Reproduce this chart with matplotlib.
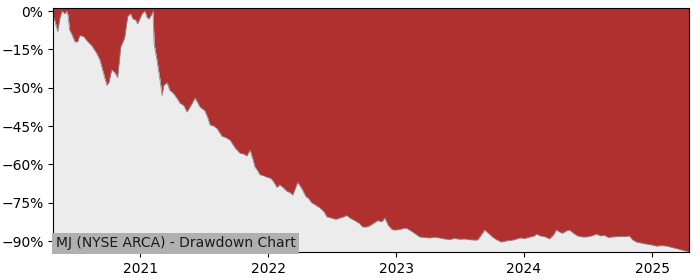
import matplotlib
matplotlib.use("Agg")
import matplotlib.pyplot as plt
import matplotlib.dates as mdates
from matplotlib.ticker import PercentFormatter
import pandas as pd

# ----- DATA (drawdown from running peak, percent)
dates = [
    "2020-04-27", "2020-05-02", "2020-05-10", "2020-05-16", "2020-05-22", "2020-05-30",
    "2020-06-05", "2020-06-08", "2020-06-13", "2020-06-19", "2020-06-28", "2020-07-06",
    "2020-07-12", "2020-07-23", "2020-08-04", "2020-08-15", "2020-08-29", "2020-09-07",
    "2020-09-13", "2020-09-21", "2020-09-27", "2020-10-03", "2020-10-11", "2020-10-20",
    "2020-10-28", "2020-11-06", "2020-11-17", "2020-11-26", "2020-12-04", "2020-12-10",
    "2020-12-19", "2020-12-24", "2021-01-06", "2021-01-14", "2021-01-20", "2021-01-26",
    "2021-02-03", "2021-02-06", "2021-02-09", "2021-02-17", "2021-02-26", "2021-03-04",
    "2021-03-09", "2021-03-18", "2021-03-26", "2021-04-04", "2021-04-15", "2021-04-24",
    "2021-05-05", "2021-05-14", "2021-05-25", "2021-06-06", "2021-06-20", "2021-07-04",
    "2021-07-13", "2021-07-19", "2021-07-30", "2021-08-08", "2021-08-22", "2021-09-02",
    "2021-09-14", "2021-09-28", "2021-10-12", "2021-10-24", "2021-11-01", "2021-11-10",
    "2021-11-18", "2021-11-24", "2021-12-02", "2021-12-08", "2021-12-20", "2021-12-28",
    "2022-01-09", "2022-01-17", "2022-01-26", "2022-02-03", "2022-02-12", "2022-02-23",
    "2022-03-04", "2022-03-12", "2022-03-18", "2022-03-26", "2022-04-07", "2022-04-18",
    "2022-04-27", "2022-05-05", "2022-05-17", "2022-05-28", "2022-06-09", "2022-06-17",
    "2022-07-01", "2022-07-13", "2022-07-24", "2022-08-05", "2022-08-13", "2022-08-22",
    "2022-09-05", "2022-09-17", "2022-09-28", "2022-10-09", "2022-10-18", "2022-10-29",
    "2022-11-10", "2022-11-21", "2022-11-30", "2022-12-08", "2022-12-20", "2022-12-28",
    "2023-01-11", "2023-01-23", "2023-01-31", "2023-02-12", "2023-02-23", "2023-03-09",
    "2023-03-24", "2023-04-07", "2023-04-21", "2023-05-05", "2023-05-20", "2023-06-03",
    "2023-06-17", "2023-07-01", "2023-07-16", "2023-07-30", "2023-08-13", "2023-08-22",
    "2023-09-02", "2023-09-11", "2023-09-22", "2023-10-04", "2023-10-15", "2023-10-29",
    "2023-11-10", "2023-11-21", "2023-12-05", "2023-12-20", "2024-01-03", "2024-01-17",
    "2024-01-31", "2024-02-06", "2024-02-17", "2024-03-01", "2024-03-14", "2024-03-26",
    "2024-04-03", "2024-04-12", "2024-04-20", "2024-05-02", "2024-05-10", "2024-05-22",
    "2024-06-02", "2024-06-16", "2024-06-28", "2024-07-12", "2024-07-26", "2024-08-07",
    "2024-08-18", "2024-08-29", "2024-09-10", "2024-09-24", "2024-10-06", "2024-10-17",
    "2024-10-28", "2024-11-06", "2024-11-17", "2024-12-01", "2024-12-16", "2025-01-03",
    "2025-01-14", "2025-01-28", "2025-02-12", "2025-02-26", "2025-03-13", "2025-03-27",
    "2025-04-10", "2025-04-16",
]
drawdown = [
    -2, -4, -8, -3, 0, -1,
    0, -1.5, -7.5, -9, -12, -12,
    -9.5, -10, -12, -13.5, -16.5, -19,
    -22, -26, -29, -28, -23, -24,
    -26, -14, -10.5, -2, -1, -3,
    -3.5, -5, -1, 0, -2.5, -3,
    -1, 0, -12.7, -19, -27, -33,
    -29, -28, -31, -32, -34, -36,
    -37, -39.5, -37, -34, -37.5, -39,
    -42, -44.6, -45, -46, -49, -49.5,
    -50.5, -53.5, -55.6, -56, -56.7, -54.4,
    -58, -61, -62.5, -64, -64.5, -65,
    -65.5, -67, -69, -68, -69, -70.5,
    -71, -72, -70, -67, -69.5, -72.5,
    -73.5, -75, -76, -77, -78.5, -80.5,
    -81, -81.5, -81, -80.5, -80, -81,
    -82, -83, -84.5, -84.5, -84, -83,
    -82, -82.5, -81, -83.5, -85.5, -85.7,
    -85.5, -85, -85, -86, -87, -88.4,
    -88.6, -88.8, -88.5, -88.8, -89.2, -89.4,
    -89, -89.3, -89.2, -89.5, -89.6, -89.6,
    -87.5, -85.7, -87, -88.5, -89.5, -90.4,
    -90, -89.8, -89.5, -88.8, -89, -88.5,
    -88, -87.3, -88, -88.3, -89.2, -87.5,
    -85.7, -86.5, -87, -86, -85.7, -87,
    -88, -88.4, -88.4, -88, -87.3, -88,
    -87.8, -88.6, -88.4, -88.3, -88.2, -88.3,
    -88, -89.5, -90.4, -90.8, -91.2, -91.6,
    -92, -91.8, -92, -92.5, -93, -93.5,
    -94, -94.3,
]
ytick_values = [0, -15, -30, -45, -60, -75, -90]
chart_label = "MJ (NYSE ARCA) - Drawdown Chart"

x = pd.to_datetime(dates)

fig, ax = plt.subplots(figsize=(7, 2.8), dpi=100)
fig.subplots_adjust(left=0.076, right=0.984, top=0.971, bottom=0.1)

y_top = 1.2
y_bottom = min(drawdown)

# red above the curve, light gray below it
ax.fill_between(x, drawdown, y_top, color="#b03030", linewidth=0)
ax.fill_between(x, drawdown, y_bottom, color="#ececec", linewidth=0)
ax.plot(x, drawdown, color="#8c8c8c", linewidth=0.6)

ax.set_xlim(x[0], x[-1])
ax.set_ylim(y_bottom, y_top)
ax.set_yticks(ytick_values)
ax.yaxis.set_major_formatter(PercentFormatter(decimals=0))
ax.xaxis.set_major_locator(mdates.YearLocator())
ax.xaxis.set_major_formatter(mdates.DateFormatter("%Y"))
ax.tick_params(labelsize=10)

ax.text(0.004, 0.008, chart_label, transform=ax.transAxes, fontsize=10,
        ha="left", va="bottom", color="#1a1a1a",
        bbox=dict(facecolor="#b0b0b0", edgecolor="none", pad=2.5))

plt.savefig("out.png", dpi=100)
